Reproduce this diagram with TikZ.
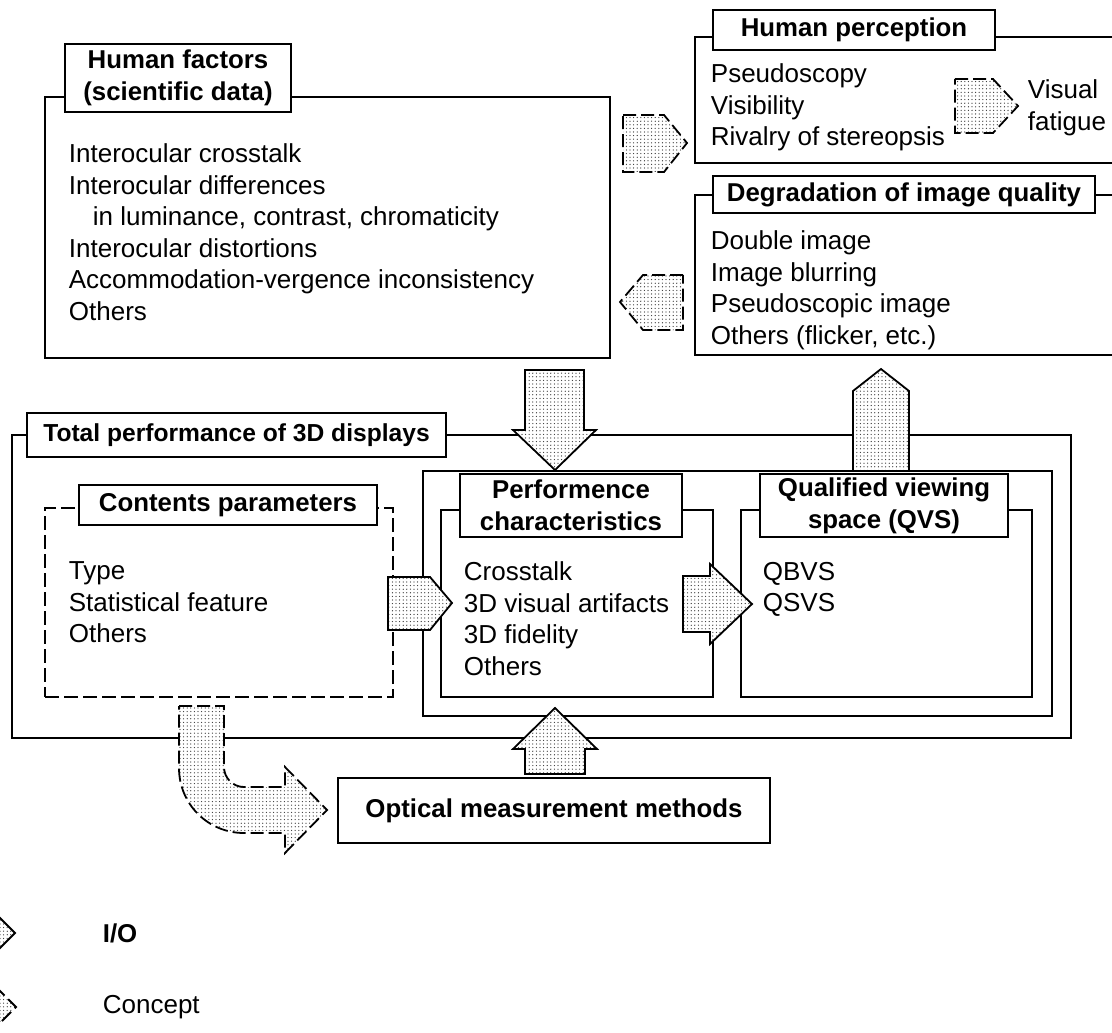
\documentclass[tikz,border=0pt]{standalone}
\usepackage{fontspec}
\setmainfont{Liberation Sans}
\usetikzlibrary{fit,patterns.meta}

\begin{document}
\begin{tikzpicture}[x=0.5pt,y=-0.5pt,line width=0.9pt,
  every node/.append style={font=\fontsize{13}{15.75}\selectfont}]
\tikzstyle{outer}=[draw,inner sep=0pt]
\tikzstyle{head}=[draw,fill=white,inner sep=0pt,align=center,
  font=\bfseries\fontsize{12.9}{16}\selectfont]
\tikzstyle{items}=[anchor=north west,inner sep=0pt,align=left]
\tikzstyle{io}=[draw,preaction={fill=white},
  preaction={pattern={Dots[distance=1.8pt,radius=0.32pt]},pattern color=black!80}]
\tikzstyle{concept}=[io,dash pattern=on 6.5pt off 2.5pt]

\useasboundingbox (0,0) rectangle (1112,1032);
\clip (0,0) rectangle (1112,1032);

% frames
\node[outer,fit={(45,97) (610,358)}] (hf) {};
\node[outer,fit={(695,37) (1130,163)}] (hp) {};
\node[outer,fit={(695,195) (1130,355)}] (dq) {};
\node[outer,fit={(12,435) (1071,738)}] (tot) {};
\node[outer,fit={(423,471) (1052,716)}] (disp) {};
\node[outer,fit={(441,510) (713,697)}] (pc) {};
\node[outer,fit={(741,510) (1032,697)}] (qvs) {};
\node[outer,dash pattern=on 7pt off 2.5pt,fit={(45,508) (393,697)}] (cp) {};

% headings
\node[head,minimum width=113pt,minimum height=34pt] (hft) at (178,78)
  {Human factors\\(scientific data)};
\node[head,minimum width=141pt,minimum height=20pt] (hpt) at (854,30) {Human perception};
\node[head,minimum width=191pt,minimum height=18.5pt] (dqt) at (904,194.5)
  {Degradation of image quality};
\node[head,minimum width=209.5pt,minimum height=22pt,
  font=\bfseries\fontsize{12.3}{16}\selectfont] (tott) at (236.5,435)
  {Total performance of 3D displays};
\node[head,minimum width=149pt,minimum height=20pt] (cpt) at (228,505) {Contents parameters};
\node[head,minimum width=111pt,minimum height=31.5pt] (pct) at (571,505.5)
  {Performence\\characteristics};
\node[head,minimum width=124pt,minimum height=31.5pt] (qvst) at (884,505.5)
  {Qualified viewing\\space (QVS)};
\node[head,minimum width=216pt,minimum height=32.5pt] (om) at (554,810.5)
  {Optical measurement methods};

% lists
\node[items] (hflist) at (68,143) {Interocular crosstalk\\Interocular differences\\
  \hspace*{12pt}in luminance, contrast, chromaticity\\Interocular distortions\\
  Accommodation-vergence inconsistency\\Others};
\node[items] (hplist) at (710,63) {Pseudoscopy\\Visibility\\Rivalry of stereopsis};
\node[anchor=west,inner sep=0pt,align=left] (fatigue) at (1027,108) {Visual\\fatigue};
\node[items] (dqlist) at (710,230) {Double image\\Image blurring\\
  Pseudoscopic image\\Others (flicker, etc.)};
\node[items] (cplist) at (68,561) {Type\\Statistical feature\\Others};
\node[items] (pclist) at (463,561) {Crosstalk\\3D visual artifacts\\3D fidelity\\Others};
\node[items] (qvslist) at (762,561) {QBVS\\QSVS};

% legend
\node[anchor=west,inner sep=0pt,font=\bfseries\fontsize{12.9}{15}\selectfont] (iokey) at (102,933) {I/O};
\node[anchor=west,inner sep=0pt] (conceptkey) at (102,1007) {Concept};

% block arrows
\draw[concept] (623,115) -- (664,115) -- (687,143) -- (664,172) -- (623,172) -- cycle;
\draw[concept] (955,79) -- (993,79) -- (1018,106) -- (993,133) -- (955,133) -- cycle;
\draw[concept] (683,275) -- (643,275) -- (620,302) -- (643,330) -- (683,330) -- cycle;
\draw[io] (525,370) -- (584,370) -- (584,430) -- (596,430) -- (555,470)
  -- (513,430) -- (525,430) -- cycle;
\draw[io] (853,471) -- (853,391) -- (881,369) -- (909,391) -- (909,471) -- cycle;
\draw[io] (388,577) -- (430,577) -- (452,603) -- (430,630) -- (388,630) -- cycle;
\draw[io] (683,576) -- (710,576) -- (710,564) -- (752,604) -- (710,644)
  -- (710,632) -- (683,632) -- cycle;
\draw[io] (525,774) -- (525,749) -- (513,749) -- (555,708) -- (597,749)
  -- (585,749) -- (585,774) -- cycle;
% bent one down to the measurement box
\draw[concept] (179,706) -- (224,706) -- (224,767)
  .. controls (224,778) and (233,787) .. (244,787) -- (285,787) -- (285,767)
  -- (327,810) -- (285,853) -- (285,833) -- (244,833)
  .. controls (208,833) and (179,804) .. (179,768) -- cycle;

% legend symbols
\draw[io] (-40,911) -- (-7,911) -- (15,933) -- (-7,955) -- (-40,955) -- cycle;
\draw[concept] (-40,985) -- (-6,985) -- (16,1007) -- (-6,1029) -- (-40,1029) -- cycle;

\end{tikzpicture}
\end{document}
